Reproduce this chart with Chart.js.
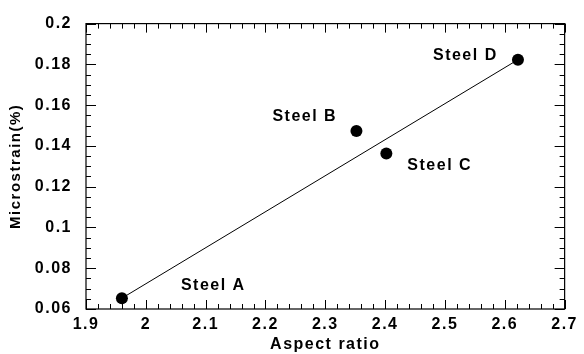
<!DOCTYPE html>
<html>
<head>
<meta charset="utf-8">
<script src="https://cdn.jsdelivr.net/npm/chart.js@4/dist/chart.umd.min.js"></script>
<style>
html,body{margin:0;padding:0;background:#fff;}
#wrap{width:584px;height:354px;}
</style>
</head>
<body>
<div id="wrap"><canvas id="c" width="584" height="354"></canvas></div>
<script>
// ---- data ----
const steelNames = ["Steel A", "Steel B", "Steel C", "Steel D"];
const aspectRatio = [1.96, 2.352, 2.402, 2.622];
const microstrain = [0.0653, 0.1473, 0.1363, 0.1823];
const fitX = [1.96, 2.622];
const fitY = [0.0653, 0.1823];
const xTickRange = [1.9, 2.7];
const yTickRange = [0.06, 0.2];

const FONT = '"Liberation Sans", Arial, sans-serif';
const WEIGHT = 'bold';
const SPACING = '1.5px';

// label placement offsets (pixels) relative to each point: style only
const labelOffsets = [[59, -13], [-84, -14], [21, 12], [-85, -4]];

const spacingPlugin = {
  id: 'spacing',
  beforeInit(chart) { chart.ctx.letterSpacing = SPACING; },
  beforeLayout(chart) { chart.ctx.letterSpacing = SPACING; },
  beforeDraw(chart) { chart.ctx.letterSpacing = SPACING; }
};

const framePlugin = {
  id: 'frame',
  afterDraw(chart) {
    const ctx = chart.ctx, a = chart.chartArea;
    const xs = chart.scales.x, ys = chart.scales.y;
    ctx.save();
    ctx.strokeStyle = '#000';
    ctx.lineWidth = 1.2;
    ctx.strokeRect(a.left, a.top, a.right - a.left, a.bottom - a.top);
    ctx.lineWidth = 1;
    ctx.beginPath();
    // x ticks (0.02 minor, 0.1 major)
    const nx = Math.round((xTickRange[1] - xTickRange[0]) / 0.02);
    for (let i = 0; i <= nx; i++) {
      const v = xTickRange[0] + i * 0.02;
      const px = Math.round(xs.getPixelForValue(v)) + 0.5;
      const len = (i % 5 === 0) ? 9 : 5;
      ctx.moveTo(px, a.bottom); ctx.lineTo(px, a.bottom - len);
      ctx.moveTo(px, a.top); ctx.lineTo(px, a.top + len);
    }
    // y ticks (0.005 minor, 0.02 major)
    const ny = Math.round((yTickRange[1] - yTickRange[0]) / 0.005);
    for (let i = 0; i <= ny; i++) {
      const v = yTickRange[0] + i * 0.005;
      const py = Math.round(ys.getPixelForValue(v)) + 0.5;
      const len = (i % 4 === 0) ? 10 : 5;
      ctx.moveTo(a.left, py); ctx.lineTo(a.left + len, py);
      ctx.moveTo(a.right, py); ctx.lineTo(a.right - len, py);
    }
    ctx.stroke();

    // point labels
    ctx.fillStyle = '#000';
    ctx.font = WEIGHT + ' 16px ' + FONT;
    ctx.letterSpacing = SPACING;
    ctx.textAlign = 'left';
    ctx.textBaseline = 'middle';
    steelNames.forEach((n, i) => {
      const px = xs.getPixelForValue(aspectRatio[i]);
      const py = ys.getPixelForValue(microstrain[i]);
      ctx.fillText(n, px + labelOffsets[i][0], py + labelOffsets[i][1]);
    });
    ctx.restore();
  }
};

const fmt = v => String(Number(Number(v).toFixed(3)));

new Chart(document.getElementById('c'), {
  type: 'scatter',
  data: {
    datasets: [
      {
        data: fitX.map((x, i) => ({x: x, y: fitY[i]})),
        showLine: true,
        borderColor: '#000',
        borderWidth: 1,
        pointRadius: 0,
        fill: false
      },
      {
        data: aspectRatio.map((x, i) => ({x: x, y: microstrain[i]})),
        showLine: false,
        pointRadius: 6,
        pointBackgroundColor: '#000',
        pointBorderColor: '#000',
        borderWidth: 0
      }
    ]
  },
  options: {
    responsive: false,
    animation: false,
    devicePixelRatio: 1,
    layout: { padding: { left: 0, top: 16, right: 18, bottom: 0 } },
    plugins: { legend: { display: false }, tooltip: { enabled: false } },
    scales: {
      x: {
        type: 'linear',
        min: xTickRange[0], max: xTickRange[1],
        afterFit(s) { s.height = 45; },
        grid: { display: false, drawTicks: false },
        border: { display: false },
        ticks: {
          stepSize: 0.1, color: '#000', padding: 6,
          font: { size: 16, family: FONT, weight: WEIGHT },
          maxRotation: 0, autoSkip: false,
          callback: v => fmt(v)
        },
        title: {
          display: true, text: 'Aspect ratio', color: '#000',
          font: { size: 16, family: FONT, weight: WEIGHT }, padding: { top: 0, bottom: 0 }
        }
      },
      y: {
        type: 'linear',
        min: yTickRange[0], max: yTickRange[1],
        afterFit(s) { s.width = 86; },
        grid: { display: false, drawTicks: false },
        border: { display: false },
        ticks: {
          stepSize: 0.02, color: '#000', padding: 14,
          font: { size: 16, family: FONT, weight: WEIGHT },
          autoSkip: false,
          callback: v => fmt(v)
        },
        title: {
          display: true, text: 'Microstrain(%)', color: '#000',
          font: { size: 15, family: FONT, weight: WEIGHT }, padding: { top: 7, bottom: 0 }
        }
      }
    }
  },
  plugins: [spacingPlugin, framePlugin]
});
</script>
</body>
</html>
